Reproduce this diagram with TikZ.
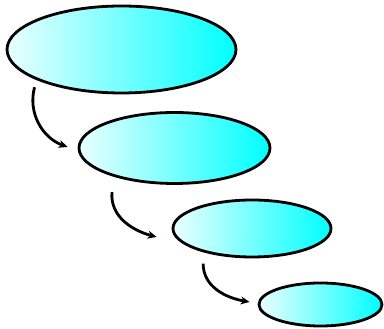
\documentclass[tikz,border=0pt]{standalone}
\usepackage{tikz}
\usetikzlibrary{arrows.meta, shapes.geometric}

\begin{document}
\begin{tikzpicture}[
  x=1pt, y=1pt,
  disc/.style={ellipse, draw, line width=2.8pt, inner sep=0pt,
    left color=cyan!8, right color=cyan},
  arr/.style={-{Stealth[length=9pt, width=8pt]}, line width=2.8pt}
]
\useasboundingbox (0,0) rectangle (384,329);
\node[disc, minimum width=229, minimum height=87] (lvlA) at (121.5,279.5) {};
\node[disc, minimum width=191, minimum height=71] (lvlB) at (174.5,181) {};
\node[disc, minimum width=158, minimum height=57] (lvlC) at (252,100.5) {};
\node[disc, minimum width=123, minimum height=43] (lvlD) at (320.5,24.5) {};
\draw[arr] ([shift={(-5,-6)}]lvlA.south west) to[out=-105, in=160]
  ([shift={(-10,1)}]lvlB.west);
\draw[arr] ([shift={(6,-18)}]lvlB.south west) to[out=-95, in=165]
  ([shift={(-15,-8.5)}]lvlC.west);
\draw[arr] ([shift={(8,-14)}]lvlC.south west) to[out=-90, in=170]
  ([shift={(-8,2.5)}]lvlD.west);
\end{tikzpicture}
\end{document}
